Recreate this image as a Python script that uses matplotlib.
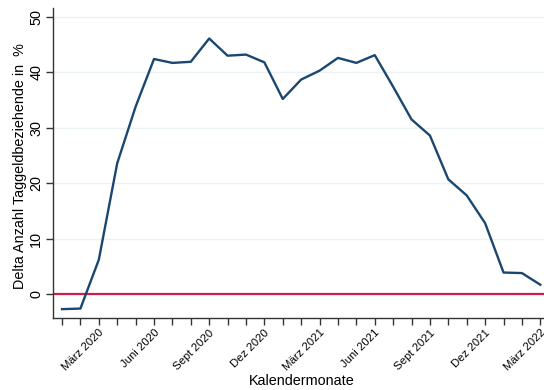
import matplotlib
matplotlib.use("Agg")
import matplotlib.pyplot as plt
import numpy as np

plt.rcParams['font.family'] = ['Liberation Sans', 'DejaVu Sans']

months = ["Jan 2020", "Feb 2020", "März 2020", "Apr 2020", "Mai 2020", "Juni 2020",
          "Juli 2020", "Aug 2020", "Sept 2020", "Okt 2020", "Nov 2020", "Dez 2020",
          "Jan 2021", "Feb 2021", "März 2021", "Apr 2021", "Mai 2021", "Juni 2021",
          "Juli 2021", "Aug 2021", "Sept 2021", "Okt 2021", "Nov 2021", "Dez 2021",
          "Jan 2022", "Feb 2022", "März 2022"]
delta = [-2.7, -2.6, 6.2, 23.6, 33.8, 42.4, 41.7, 41.9, 46.1, 43.0, 43.2, 41.8,
         35.2, 38.7, 40.3, 42.6, 41.7, 43.1, 37.4, 31.5, 28.6, 20.7, 17.8, 12.8,
         3.9, 3.8, 1.7]
label_every = 3
label_start = 2
yticks = [0, 10, 20, 30, 40, 50]

fig = plt.figure(figsize=(5.44, 3.90), dpi=100)
ax = fig.add_axes([53/544, 72/390, 1 - 53/544, (318 - 8)/390])

x = np.arange(len(months))
for yv in yticks[1:]:
    ax.axhline(yv, color='#eaf2f3', lw=1.0, zorder=0)
ax.axhline(0, color='#d41b45', lw=1.6, zorder=2)
ax.plot(x, delta, color='#1a476f', lw=1.7, zorder=3)

ax.set_xlim(-0.49, 26.2)
ax.set_ylim(-4.3, 51.6)
ax.set_xticks(x)
ax.set_xticklabels([m if (i >= label_start and (i - label_start) % label_every == 0) else ""
                    for i, m in enumerate(months)],
                   rotation=45, ha='right', rotation_mode='anchor', fontsize=8.2)
ax.set_yticks(yticks)
ax.set_yticklabels([str(v) for v in yticks], rotation=90, va='center', fontsize=10.4)
ax.tick_params(axis='both', direction='out', length=5, width=1, color='#333333')
ax.tick_params(axis='x', pad=2)
ax.tick_params(axis='y', pad=2)

for s in ['top', 'right']:
    ax.spines[s].set_visible(False)
for s in ['left', 'bottom']:
    ax.spines[s].set_color('#333333')
    ax.spines[s].set_linewidth(1)

fig.text(20/544, 1 - 166/390, "Delta Anzahl Taggeldbeziehende in  %", fontsize=10.4,
         rotation=90, ha='center', va='center')
fig.text(302/544, 1 - 381/390, "Kalendermonate", fontsize=10.4, ha='center', va='center')

fig.savefig("out.png", dpi=100)
